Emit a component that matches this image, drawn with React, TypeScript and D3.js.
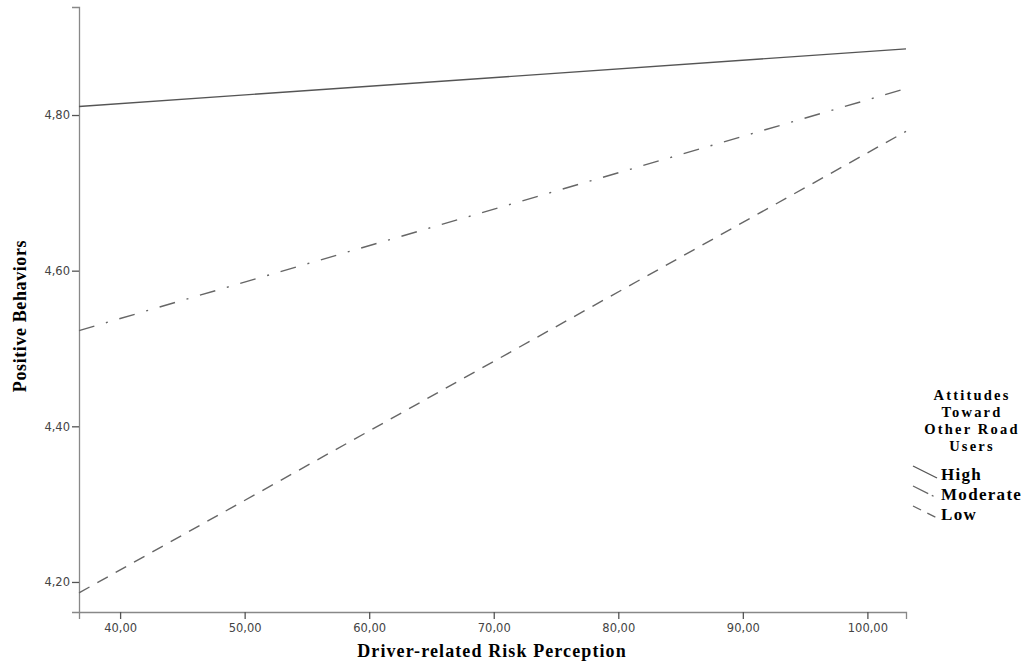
import React, { useEffect, useRef } from 'react';
import * as d3 from 'd3';

// range of the predictor drawn by the fitted lines
const xRange = [36.7, 103.1];
const xTicks = [40, 50, 60, 70, 80, 90, 100];
const yTicks = [4.2, 4.4, 4.6, 4.8];

const legendTitle = ['Attitudes', 'Toward', 'Other Road', 'Users'];
const groups = ['High', 'Moderate', 'Low'];
const highValues = [4.811, 4.885];
const moderateValues = [4.523, 4.834];
const lowValues = [4.186, 4.779];

const App = () => {
  const ref = useRef<SVGSVGElement | null>(null);

  useEffect(() => {
    const svg = d3.select(ref.current);
    svg.selectAll('*').remove();

    const width = 1032;
    const height = 666;
    const left = 79;
    const right = 906;
    const top = 7;
    const bottom = 612;
    const serif = '"Liberation Serif", "Times New Roman", serif';

    const x = d3.scaleLinear().domain(xRange).range([left, right]);
    const y = d3.scaleLinear().domain([4.1614, 4.9388]).range([bottom, top]);

    svg.attr('width', width).attr('height', height);

    const fmt = (d: number) => d3.format('.2f')(d).replace('.', ',');

    const gx = svg.append('g')
      .attr('transform', `translate(0,${bottom})`)
      .call(d3.axisBottom(x).tickValues(xTicks).tickFormat(fmt as any).tickSizeOuter(0).tickSize(7).tickPadding(5));
    const gy = svg.append('g')
      .attr('transform', `translate(${left},0)`)
      .call(d3.axisLeft(y).tickValues(yTicks).tickFormat(fmt as any).tickSizeOuter(0).tickSize(7).tickPadding(2));

    [gx, gy].forEach(g => {
      g.select('.domain').attr('stroke', '#888').attr('stroke-width', 1.3);
      g.selectAll('.tick line').attr('stroke', '#555').attr('stroke-width', 1.3);
      g.selectAll('.tick text')
        .attr('fill', '#444')
        .style('font-family', '"DejaVu Sans", Verdana, sans-serif')
        .style('font-size', '11.5px');
    });

    const series = [
      { name: groups[0], values: highValues, dash: null, color: '#555' },
      { name: groups[1], values: moderateValues, dash: '16,12,2,12', color: '#666' },
      { name: groups[2], values: lowValues, dash: '12,9', color: '#666' },
    ];

    const line = d3.line<number>()
      .x((d, i) => x(xRange[i]))
      .y(d => y(d));

    series.forEach(s => {
      svg.append('path')
        .datum(s.values)
        .attr('fill', 'none')
        .attr('stroke', s.color)
        .attr('stroke-width', 1.4)
        .attr('stroke-dasharray', s.dash)
        .attr('d', line);
    });

    // axis titles
    svg.append('text')
      .attr('x', 492).attr('y', 657)
      .attr('text-anchor', 'middle')
      .style('font-family', serif)
      .style('font-weight', 'bold')
      .style('font-size', '18px')
      .style('letter-spacing', '1.1px')
      .text('Driver-related Risk Perception');

    svg.append('text')
      .attr('transform', 'translate(26,316) rotate(-90)')
      .attr('text-anchor', 'middle')
      .style('font-family', serif)
      .style('font-weight', 'bold')
      .style('font-size', '18px')
      .style('letter-spacing', '0.6px')
      .text('Positive Behaviors');

    // legend
    const legend = svg.append('g')
      .style('font-family', serif)
      .style('font-weight', 'bold');
    legendTitle.forEach((t, i) => {
      legend.append('text')
        .attr('x', 972).attr('y', 400 + i * 17)
        .attr('text-anchor', 'middle')
        .style('font-size', '14.5px')
        .style('letter-spacing', '2.2px')
        .text(t);
    });

    const swatchDash = [null, '17,4,2,20', '9,7'];
    series.forEach((s, i) => {
      const yy = 473 + i * 20;
      legend.append('line')
        .attr('x1', 913).attr('y1', yy - 7)
        .attr('x2', 937).attr('y2', yy + 5)
        .attr('stroke', s.color)
        .attr('stroke-width', 1.3)
        .attr('stroke-dasharray', swatchDash[i]);
      legend.append('text')
        .attr('x', 941).attr('y', yy + 7)
        .style('font-size', '17px')
        .style('letter-spacing', '1.3px')
        .text(s.name);
    });
  }, []);

  return <svg ref={ref} style={{ position: 'absolute', left: 0, top: 0 }}></svg>;
};

export default App;
